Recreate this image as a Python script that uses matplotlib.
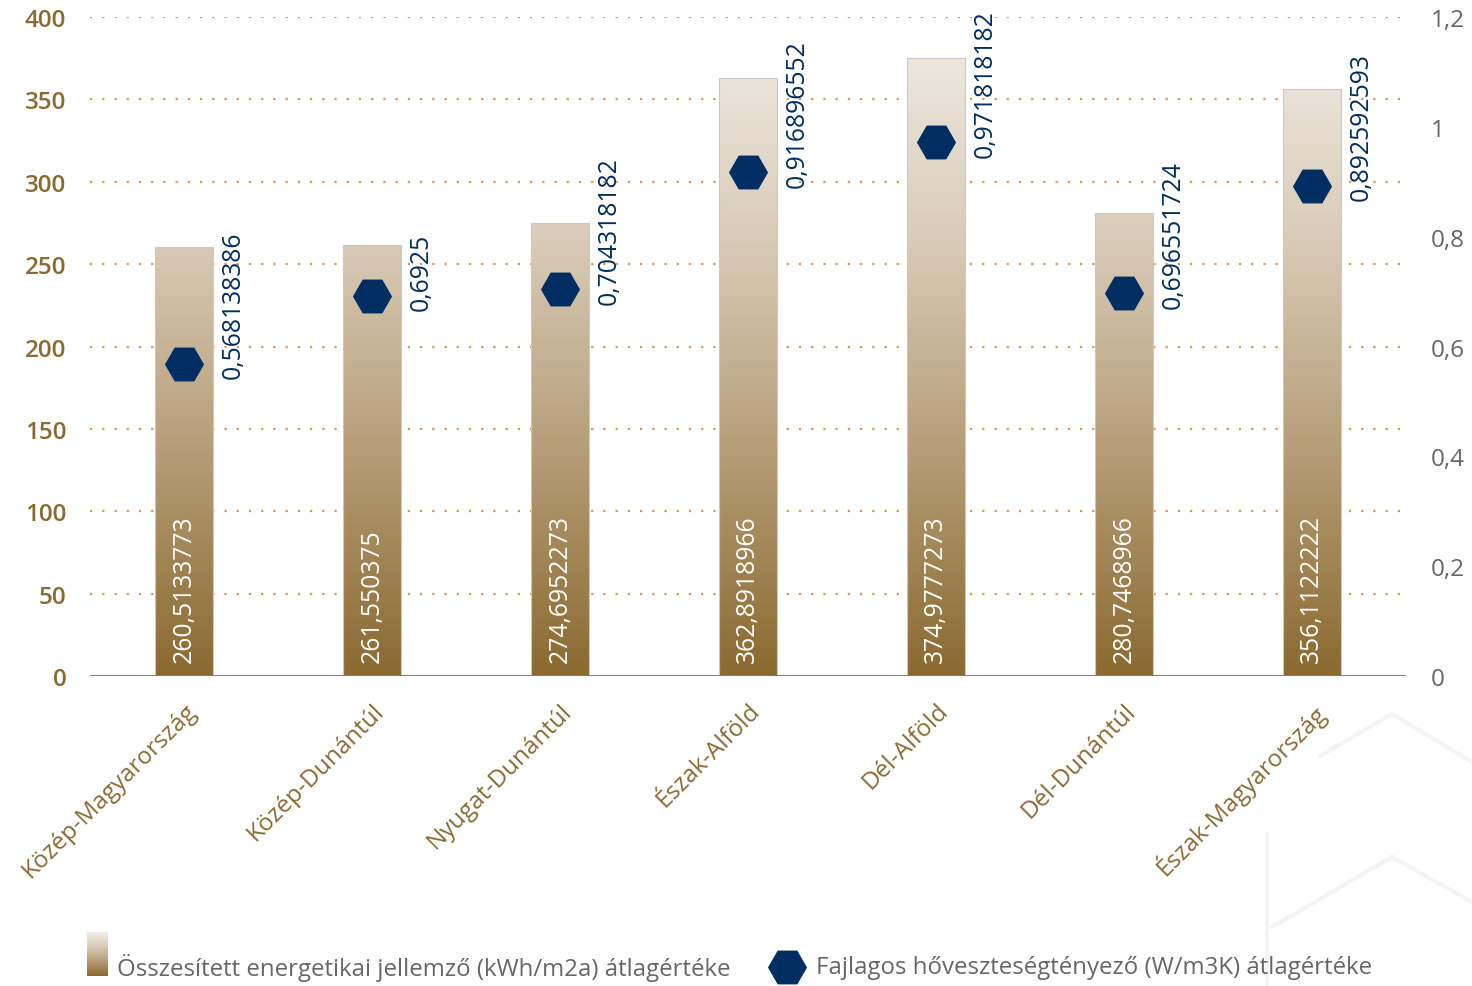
import numpy as np
import matplotlib.pyplot as plt
from matplotlib.colors import LinearSegmentedColormap
from matplotlib.lines import Line2D

plt.rcParams['font.family'] = ['Open Sans', 'DejaVu Sans']

regions = ['Közép-Magyarország', 'Közép-Dunántúl', 'Nyugat-Dunántúl', 'Észak-Alföld',
           'Dél-Alföld', 'Dél-Dunántúl', 'Észak-Magyarország']
energy = [260.5133773, 261.550375, 274.6952273, 362.8918966, 374.9777273, 280.7468966, 356.1122222]
energy_lbl = ['260,5133773', '261,550375', '274,6952273', '362,8918966',
              '374,9777273', '280,7468966', '356,1122222']
hofok = [0.568138386, 0.6925, 0.704318182, 0.916896552, 0.971818182, 0.696551724, 0.892592593]
hofok_lbl = ['0,568138386', '0,6925', '0,704318182', '0,916896552',
             '0,971818182', '0,696551724', '0,892592593']
left_ticks = [0, 50, 100, 150, 200, 250, 300, 350, 400]
right_ticks = [0, 0.2, 0.4, 0.6, 0.8, 1.0, 1.2]
right_lbl = ['0', '0,2', '0,4', '0,6', '0,8', '1', '1,2']

gold = '#8B6A30'
navy = '#002D62'
grey = '#666666'
grad = LinearSegmentedColormap.from_list('g', ['#8B6A30', '#B59C76', '#D9CCB8', '#F1EDE7'])

fig = plt.figure(figsize=(14.72, 9.87), dpi=100)
ax = fig.add_axes([0.0611, 0.314, 0.894, 0.6678])
x = np.arange(len(regions))
ax.set_xlim(-0.5, 6.5)
ax.set_ylim(0, 400)

bars = ax.bar(x, energy, width=0.31, color='none', edgecolor='#C9C9C9', linewidth=0.8, zorder=2)
g = np.linspace(0, 1, 256).reshape(-1, 1)
for b in bars:
    im = ax.imshow(g, cmap=grad, origin='lower', aspect='auto',
                   extent=[-0.5, 6.5, 0, 400], zorder=1.5)
    im.set_clip_path(b)

for v in left_ticks[1:]:
    ax.axhline(v, color='#D39A4E', linestyle=(0, (1, 4.5)), linewidth=1.6, zorder=0)
ax.axhline(0, color='#9C7C45', linewidth=1.5, zorder=3)

for i, v in enumerate(energy):
    ax.text(x[i], 8.5, energy_lbl[i], rotation=90, rotation_mode='anchor',
            ha='left', va='center', color='white', fontsize=17.8, zorder=4)

ax2 = ax.twinx()
ax2.set_ylim(0, 1.2)
ax2.plot(x, hofok, linestyle='none', marker='H', markersize=27, color=navy, zorder=5)
for i, v in enumerate(hofok):
    ax2.text(x[i] + 0.26, v - 0.026, hofok_lbl[i], rotation=90, rotation_mode='anchor',
             ha='left', va='center', color=navy, fontsize=17.8)

for a in (ax, ax2):
    for s in a.spines.values():
        s.set_visible(False)
ax.set_yticks(left_ticks)
ax.set_yticklabels([str(t) for t in left_ticks], color=gold, fontsize=17.5, fontweight='semibold')
ax.tick_params(axis='y', length=0, pad=17)
ax2.set_yticks(right_ticks)
ax2.set_yticklabels(right_lbl, color=grey, fontsize=17.5)
ax2.tick_params(axis='y', length=0, pad=18)
ax.set_xticks(x)
ax.set_xticklabels(regions, rotation=45, ha='right', rotation_mode='anchor',
                   color=gold, fontsize=17.5)
ax.tick_params(axis='x', length=0, pad=16)

# legend
lax = fig.add_axes([87 / 1472, 1 - 977 / 987, 21 / 1472, 44 / 987])
lax.imshow(g, cmap=grad, origin='lower', aspect='auto', extent=[0, 1, 0, 1])
lax.axis('off')
fig.text(117 / 1472, 1 - 968 / 987, 'Összesített energetikai jellemző (kWh/m2a) átlagértéke',
         color=grey, fontsize=17.3, va='center', ha='left')
fig.add_artist(Line2D([787 / 1472], [1 - 968 / 987], marker='H', markersize=27,
                      color=navy, linestyle='none', transform=fig.transFigure))
fig.text(816 / 1472, 1 - 968 / 987, 'Fajlagos hőveszteségtényező (W/m3K) átlagértéke',
         color=grey, fontsize=17.3, va='center', ha='left')

# faint background decoration
deco = [((1392, 715), (1472, 763)), ((1392, 715), (1320, 757)),
        ((1392, 858), (1272, 928)), ((1392, 858), (1472, 903)),
        ((1267, 835), (1267, 987))]
for (x0, y0), (x1, y1) in deco:
    fig.add_artist(Line2D([x0 / 1472, x1 / 1472], [1 - y0 / 987, 1 - y1 / 987],
                          color='#F4F4F4', linewidth=3, transform=fig.transFigure, zorder=-1))

fig.savefig('out.png', dpi=100)
